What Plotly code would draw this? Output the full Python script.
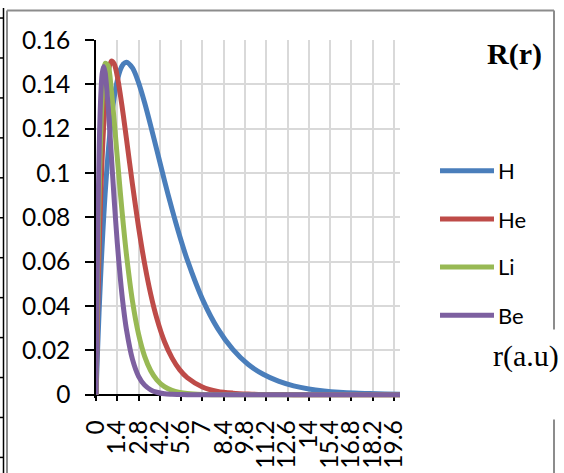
import plotly.graph_objects as go

# radial distance r (a.u.) and R(r)
r = [0, 0.1, 0.2, 0.3, 0.4, 0.5, 0.6, 0.8, 1.0, 1.2, 1.4, 1.6, 1.8, 2.0, 2.4, 2.8,
     3.2, 3.6, 4.0, 4.5, 5.0, 5.5, 6.0, 7.0, 8.0, 9.0, 10.0, 11.0, 12.0, 13.0,
     14.0, 15.0, 16.0, 17.0, 18.0, 19.0, 20.0]

h = [0, 0.0194, 0.0369, 0.0527, 0.0668, 0.0794, 0.0906, 0.1093, 0.1237, 0.1343,
     0.1417, 0.1466, 0.1492, 0.1500, 0.1474, 0.1408, 0.1317, 0.1213, 0.1104,
     0.0967, 0.0837, 0.0717, 0.0609, 0.0431, 0.0299, 0.0204, 0.0137, 0.0092,
     0.0061, 0.0040, 0.0026, 0.0017, 0.0011, 0.0007, 0.0005, 0.0003, 0.0002]

he = [0, 0.0353, 0.0642, 0.0875, 0.1061, 0.1206, 0.1316, 0.1452, 0.1505, 0.1492,
      0.1436, 0.1354, 0.1259, 0.1156, 0.0948, 0.0756, 0.0590, 0.0453, 0.0344,
      0.0240, 0.0166, 0.0113, 0.0077, 0.0035, 0.0015, 0.0007, 0.0003, 0.0001,
      0.0001, 0, 0, 0, 0, 0, 0, 0, 0]

li = [0, 0.0518, 0.0894, 0.1157, 0.1332, 0.1440, 0.1495, 0.1484, 0.1378, 0.1232,
      0.1071, 0.0912, 0.0765, 0.0634, 0.0422, 0.0273, 0.0173, 0.0108, 0.0067,
      0.0036, 0.0019, 0.0010, 0.0005, 0.0001, 0, 0, 0, 0, 0, 0, 0, 0, 0, 0, 0, 0, 0]

be = [0, 0.0659, 0.1079, 0.1325, 0.1446, 0.1480, 0.1454, 0.1300, 0.1089, 0.0876,
      0.0685, 0.0525, 0.0396, 0.0295, 0.0159, 0.0083, 0.0043, 0.0022, 0.0011,
      0.0004, 0.0002, 0.0001, 0, 0, 0, 0, 0, 0, 0, 0, 0, 0, 0, 0, 0, 0, 0]

x_ticks = [0, 1.4, 2.8, 4.2, 5.6, 7, 8.4, 9.8, 11.2, 12.6, 14, 15.4, 16.8, 18.2, 19.6]
x_labels = ['0', '1.4', '2.8', '4.2', '5.6', '7', '8.4', '9.8', '11.2', '12.6',
            '14', '15.4', '16.8', '18.2', '19.6']
y_ticks = [0, 0.02, 0.04, 0.06, 0.08, 0.1, 0.12, 0.14, 0.16]
y_labels = ['0', '0.02', '0.04', '0.06', '0.08', '0.1', '0.12', '0.14', '0.16']

names = ['H', 'He', 'Li', 'Be']
series = [h, he, li, be]
colors = ['#4A7EBB', '#BE4B48', '#98B954', '#7D60A0']

W, H = 564, 473
L, R, T, B = 96, 164, 40, 74.5
y_lo = -0.0015


def px(x):
    return (x - L) / (W - L - R)


def py(y):
    return (H - B - y) / (H - T - B)


fig = go.Figure()
for name, vals, col in zip(names, series, colors):
    fig.add_trace(go.Scatter(x=r, y=vals, name=name, mode='lines',
                             line=dict(color=col, width=5, shape='spline', smoothing=0.8),
                             showlegend=False))

tick_font = dict(family='Lato', size=24.5, color='black')
fig.update_xaxes(range=[0, 20], tickvals=x_ticks, ticktext=x_labels, tickangle=-90,
                 ticks='outside', ticklen=6, tickwidth=1.5, tickcolor='black',
                 showline=True, linecolor='black', linewidth=1.5,
                 showgrid=True, gridcolor='#D9D9D9', gridwidth=2, zeroline=False,
                 anchor='free', position=-y_lo / (0.16 - y_lo), layer='below traces',
                 automargin=False, ticklabelstandoff=9, tickfont=tick_font)
fig.update_yaxes(range=[y_lo, 0.16], tickvals=y_ticks, ticktext=y_labels,
                 ticks='outside', ticklen=9, tickwidth=1.5, tickcolor='black',
                 showline=True, linecolor='black', linewidth=1.5,
                 showgrid=True, gridcolor='#D9D9D9', gridwidth=2, zeroline=False,
                 layer='below traces', automargin=False, ticklabelstandoff=10,
                 tickfont=tick_font)

shapes = []
# chart area border (gray), right side broken by the axis caption
border = dict(type='line', xref='paper', yref='paper', line=dict(color='#8C8C8C', width=2))
shapes.append(dict(border, x0=px(7), x1=px(7), y0=py(10.5), y1=py(475)))
shapes.append(dict(border, x0=px(7), x1=px(554), y0=py(10.5), y1=py(10.5)))
shapes.append(dict(border, x0=px(554), x1=px(554), y0=py(10.5), y1=py(330)))
shapes.append(dict(border, x0=px(554), x1=px(554), y0=py(420), y1=py(475)))
# table rule of the surrounding document at the far left
rule = dict(type='line', xref='paper', yref='paper', line=dict(color='black', width=1.5))
shapes.append(dict(rule, x0=px(3.5), x1=px(3.5), y0=py(8), y1=py(475)))
for k in range(12):
    yy = 18 + 40 * k
    shapes.append(dict(rule, x0=px(-1), x1=px(4), y0=py(yy), y1=py(yy)))

# legend
annotations = []
leg_y = [171, 219.3, 267.3, 315.7]
for name, col, yy in zip(names, colors, leg_y):
    shapes.append(dict(type='line', xref='paper', yref='paper',
                       x0=px(440), x1=px(494), y0=py(yy), y1=py(yy),
                       line=dict(color=col, width=5)))
    annotations.append(dict(x=px(496), y=py(yy), xref='paper', yref='paper',
                            text=name, showarrow=False, xanchor='left', yanchor='middle',
                            font=dict(family='Lato', size=22, color='black')))

annotations.append(dict(x=px(514), y=py(54), xref='paper', yref='paper',
                        text='<b>R(r)</b>', showarrow=False, xanchor='center', yanchor='middle',
                        font=dict(family='Liberation Serif', size=30, color='black')))
annotations.append(dict(x=px(526), y=py(356), xref='paper', yref='paper',
                        text='r(a.u)', showarrow=False, xanchor='center', yanchor='middle',
                        font=dict(family='Liberation Serif', size=30, color='black')))

fig.update_layout(width=W, height=H, margin=dict(l=L, r=R, t=T, b=B),
                  paper_bgcolor='white', plot_bgcolor='white',
                  shapes=shapes, annotations=annotations)

fig.write_html("out.html", config={'displayModeBar': False},
               post_script="document.body.style.margin='0';")
